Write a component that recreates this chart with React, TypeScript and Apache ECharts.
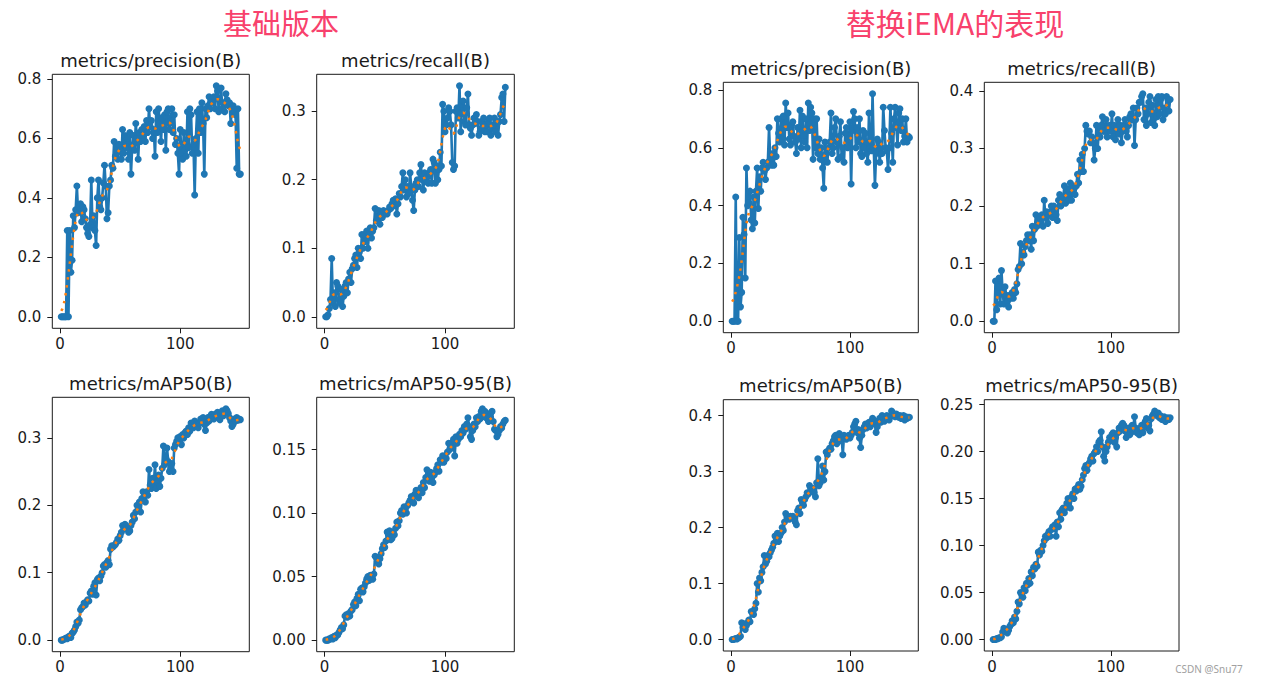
import React, { useEffect, useRef } from "react";
import * as echarts from "echarts";

// ---------- data ----------
const epochs: number[] = Array.from({ length: 150 }, (_, i) => i + 1);

const precisionBase = [
  0, 0, 0, 0, 0, 0.29, 0, 0.29, 0.15, 0.19,
  0.34, 0.30, 0.36, 0.44, 0.35, 0.37, 0.38, 0.32, 0.37, 0.36,
  0.33, 0.30, 0.28, 0.27, 0.31, 0.46, 0.30, 0.34, 0.29, 0.24,
  0.40, 0.46, 0.37, 0.36, 0.40, 0.45, 0.51, 0.44, 0.33, 0.35,
  0.44, 0.46, 0.51, 0.50, 0.59, 0.54, 0.57, 0.53, 0.58, 0.56,
  0.53, 0.63, 0.55, 0.61, 0.57, 0.60, 0.53, 0.62, 0.48, 0.57,
  0.61, 0.56, 0.65, 0.60, 0.53, 0.62, 0.59, 0.63, 0.61, 0.64,
  0.59, 0.66, 0.62, 0.70, 0.64, 0.66, 0.60, 0.63, 0.54, 0.69,
  0.62, 0.70, 0.65, 0.59, 0.67, 0.63, 0.68, 0.56, 0.69, 0.70,
  0.63, 0.66, 0.70, 0.62, 0.68, 0.58, 0.60, 0.55, 0.48, 0.63,
  0.55, 0.53, 0.62, 0.56, 0.54, 0.69, 0.57, 0.70, 0.68, 0.55,
  0.58, 0.41, 0.60, 0.69, 0.55, 0.70, 0.62, 0.72, 0.65, 0.48,
  0.70, 0.67, 0.71, 0.74, 0.70, 0.73, 0.72, 0.74, 0.70, 0.777,
  0.76, 0.69, 0.73, 0.77, 0.70, 0.72, 0.69, 0.75, 0.73, 0.71,
  0.72, 0.65, 0.70, 0.71, 0.69, 0.68, 0.50, 0.70, 0.48, 0.48,
];

const recallBase = [
  0.0, 0.0, 0.003, 0.012, 0.025, 0.085, 0.02, 0.035, 0.015, 0.05,
  0.045, 0.025, 0.02, 0.04, 0.015, 0.03, 0.045, 0.05, 0.035, 0.055,
  0.065, 0.05, 0.07, 0.075, 0.085, 0.09, 0.072, 0.10, 0.095, 0.085,
  0.12, 0.10, 0.12, 0.11, 0.125, 0.10, 0.12, 0.13, 0.115, 0.125,
  0.13, 0.158, 0.14, 0.145, 0.155, 0.135, 0.15, 0.145, 0.155, 0.15,
  0.152, 0.15, 0.155, 0.16, 0.158, 0.165, 0.17, 0.162, 0.172, 0.15,
  0.165, 0.18, 0.175, 0.19, 0.21, 0.185, 0.2, 0.175, 0.19, 0.18,
  0.21, 0.19, 0.17, 0.155, 0.185, 0.195, 0.2, 0.19, 0.21, 0.222,
  0.2, 0.185, 0.21, 0.2, 0.205, 0.195, 0.21, 0.215, 0.195, 0.23,
  0.225, 0.195, 0.22, 0.2, 0.215, 0.24, 0.22, 0.31, 0.3, 0.27,
  0.28, 0.29, 0.305, 0.3, 0.28, 0.225, 0.215, 0.22, 0.3, 0.305,
  0.29, 0.337, 0.27, 0.31, 0.315, 0.285, 0.28, 0.305, 0.325, 0.28,
  0.275, 0.265, 0.28, 0.29, 0.282, 0.295, 0.285, 0.265, 0.27, 0.285,
  0.275, 0.29, 0.27, 0.28, 0.27, 0.285, 0.29, 0.265, 0.275, 0.28,
  0.29, 0.27, 0.285, 0.265, 0.285, 0.295, 0.32, 0.325, 0.285, 0.335,
];

const map50Base = [
  0.0, 0.0, 0.001, 0.002, 0.003, 0.002, 0.005, 0.006, 0.004, 0.01,
  0.012, 0.015, 0.02, 0.027, 0.025, 0.03, 0.045, 0.048, 0.05, 0.055,
  0.052, 0.057, 0.06, 0.058, 0.07, 0.073, 0.068, 0.08, 0.085, 0.067,
  0.09, 0.092, 0.088, 0.095, 0.1, 0.11, 0.112, 0.108, 0.115, 0.118,
  0.112, 0.135, 0.14, 0.138, 0.14, 0.142, 0.145, 0.15, 0.148, 0.155,
  0.16, 0.17, 0.165, 0.172, 0.168, 0.165, 0.16, 0.162, 0.17, 0.175,
  0.185, 0.18, 0.19, 0.2, 0.195, 0.205, 0.19, 0.21, 0.22, 0.215,
  0.205, 0.22, 0.215, 0.253, 0.23, 0.225, 0.24, 0.232, 0.26, 0.225,
  0.235, 0.245, 0.228, 0.24, 0.255, 0.288, 0.26, 0.27, 0.285, 0.265,
  0.25, 0.255, 0.262, 0.25, 0.285, 0.29, 0.295, 0.3, 0.298, 0.302,
  0.29, 0.305, 0.3, 0.308, 0.31, 0.305, 0.315, 0.31, 0.322, 0.318,
  0.315, 0.325, 0.318, 0.32, 0.315, 0.322, 0.328, 0.325, 0.33, 0.32,
  0.311, 0.322, 0.33, 0.325, 0.332, 0.335, 0.33, 0.328, 0.335, 0.332,
  0.338, 0.332, 0.327, 0.335, 0.34, 0.333, 0.338, 0.343, 0.34, 0.336,
  0.33, 0.325, 0.317, 0.32, 0.328, 0.325, 0.33, 0.326, 0.328, 0.327,
];

const map5095Base = [
  0.0, 0.0, 0.0, 0.001, 0.001, 0.002, 0.001, 0.003, 0.002, 0.004,
  0.004, 0.006, 0.008, 0.01, 0.009, 0.012, 0.019, 0.02, 0.018, 0.021,
  0.019, 0.023, 0.024, 0.028, 0.03, 0.027, 0.033, 0.036, 0.031, 0.04,
  0.041, 0.038, 0.042, 0.045, 0.048, 0.05, 0.047, 0.051, 0.05, 0.048,
  0.052, 0.066, 0.065, 0.062, 0.06, 0.064, 0.068, 0.072, 0.075, 0.073,
  0.078, 0.085, 0.083, 0.086, 0.079, 0.08, 0.085, 0.083, 0.088, 0.093,
  0.09, 0.094, 0.1, 0.102, 0.099, 0.105, 0.103, 0.1, 0.106, 0.108,
  0.11, 0.113, 0.112, 0.108, 0.115, 0.118, 0.114, 0.112, 0.118, 0.12,
  0.116, 0.124, 0.12, 0.128, 0.134, 0.13, 0.125, 0.132, 0.128, 0.124,
  0.13, 0.132, 0.135, 0.138, 0.133, 0.142, 0.14, 0.145, 0.14, 0.145,
  0.143, 0.148, 0.155, 0.15, 0.155, 0.152, 0.158, 0.145, 0.16, 0.155,
  0.158, 0.162, 0.16, 0.165, 0.163, 0.168, 0.166, 0.17, 0.175, 0.168,
  0.16, 0.158, 0.165, 0.17, 0.168, 0.175, 0.172, 0.176, 0.174, 0.18,
  0.182, 0.176, 0.18, 0.175, 0.178, 0.172, 0.176, 0.179, 0.18, 0.172,
  0.166, 0.165, 0.16, 0.162, 0.165, 0.168, 0.167, 0.17, 0.172, 0.173,
];

const precisionIEMA = [
  0.0, 0.0, 0.0, 0.43, 0.0, 0.0, 0.29, 0.05, 0.1, 0.36,
  0.3, 0.15, 0.53, 0.4, 0.41, 0.45, 0.35, 0.32, 0.43, 0.34,
  0.45, 0.53, 0.39, 0.5, 0.45, 0.53, 0.55, 0.52, 0.49, 0.53,
  0.55, 0.67, 0.56, 0.54, 0.58, 0.54, 0.6, 0.57, 0.7, 0.65,
  0.62, 0.7, 0.63, 0.71, 0.61, 0.755, 0.67, 0.72, 0.63, 0.61,
  0.68, 0.69, 0.64, 0.62, 0.58, 0.67, 0.63, 0.73, 0.6, 0.71,
  0.64, 0.62, 0.7, 0.6, 0.755, 0.66, 0.74, 0.72, 0.56, 0.7,
  0.6, 0.7, 0.58, 0.63, 0.56, 0.6, 0.53, 0.46, 0.62, 0.58,
  0.55, 0.6, 0.62, 0.72, 0.58, 0.6, 0.67, 0.7, 0.62, 0.56,
  0.64, 0.69, 0.57, 0.6, 0.55, 0.65, 0.67, 0.6, 0.63, 0.69,
  0.475, 0.66, 0.725, 0.7, 0.6, 0.67, 0.62, 0.7, 0.58, 0.57,
  0.66, 0.6, 0.65, 0.58, 0.55, 0.72, 0.6, 0.59, 0.787, 0.6,
  0.47, 0.58, 0.63, 0.62, 0.55, 0.6, 0.58, 0.74, 0.66, 0.6,
  0.59, 0.525, 0.6, 0.74, 0.65, 0.55, 0.7, 0.74, 0.67, 0.61,
  0.72, 0.735, 0.66, 0.7, 0.62, 0.64, 0.7, 0.62, 0.64, 0.635,
];

const recallIEMA = [
  0.0, 0.0, 0.07, 0.02, 0.06, 0.075, 0.03, 0.088, 0.05, 0.03,
  0.06, 0.045, 0.035, 0.025, 0.045, 0.04, 0.05, 0.04, 0.055, 0.05,
  0.065, 0.09, 0.095, 0.135, 0.1, 0.12, 0.115, 0.13, 0.14, 0.15,
  0.14, 0.15, 0.125, 0.165, 0.14, 0.16, 0.185, 0.165, 0.17, 0.18,
  0.17, 0.185, 0.165, 0.21, 0.18, 0.19, 0.17, 0.185, 0.19, 0.2,
  0.18, 0.2, 0.19, 0.185, 0.175, 0.21, 0.22, 0.2, 0.21, 0.215,
  0.235, 0.205, 0.22, 0.23, 0.21, 0.24, 0.21, 0.235, 0.23, 0.22,
  0.235, 0.255, 0.24, 0.28, 0.26, 0.29, 0.26, 0.3, 0.34, 0.33,
  0.325, 0.33, 0.31, 0.32, 0.31, 0.28, 0.3, 0.34, 0.3, 0.33,
  0.32, 0.34, 0.355, 0.33, 0.33, 0.35, 0.32, 0.335, 0.34, 0.33,
  0.36, 0.32, 0.34, 0.315, 0.335, 0.35, 0.325, 0.34, 0.31, 0.33,
  0.34, 0.35, 0.33, 0.32, 0.34, 0.355, 0.36, 0.35, 0.37, 0.305,
  0.35, 0.37, 0.36, 0.38, 0.38, 0.39, 0.395, 0.35, 0.37, 0.34,
  0.36, 0.38, 0.39, 0.345, 0.375, 0.35, 0.34, 0.385, 0.355, 0.39,
  0.36, 0.385, 0.39, 0.35, 0.37, 0.36, 0.39, 0.385, 0.365, 0.385,
];

const map50IEMA = [
  0.0, 0.0, 0.001, 0.002, 0.001, 0.003, 0.004, 0.006, 0.03, 0.022,
  0.028, 0.018, 0.025, 0.03, 0.035, 0.032, 0.05, 0.048, 0.045, 0.055,
  0.065, 0.1, 0.085, 0.11, 0.105, 0.12, 0.13, 0.15, 0.135, 0.14,
  0.15, 0.148, 0.155, 0.16, 0.165, 0.172, 0.185, 0.18, 0.19, 0.175,
  0.185, 0.19, 0.2, 0.195, 0.21, 0.225, 0.22, 0.218, 0.215, 0.22,
  0.218, 0.22, 0.215, 0.21, 0.205, 0.23, 0.235, 0.225, 0.25, 0.245,
  0.24, 0.25, 0.255, 0.262, 0.26, 0.275, 0.27, 0.265, 0.27, 0.262,
  0.255, 0.28, 0.323, 0.275, 0.28, 0.29, 0.31, 0.285, 0.3, 0.335,
  0.33, 0.338, 0.342, 0.34, 0.35, 0.355, 0.362, 0.365, 0.35, 0.36,
  0.368, 0.355, 0.362, 0.33, 0.365, 0.36, 0.358, 0.362, 0.365, 0.36,
  0.365, 0.37, 0.38, 0.385, 0.39, 0.37, 0.375, 0.36, 0.343, 0.365,
  0.375, 0.38, 0.385, 0.378, 0.385, 0.388, 0.38, 0.39, 0.395, 0.392,
  0.385, 0.37, 0.38, 0.39, 0.395, 0.388, 0.4, 0.398, 0.39, 0.395,
  0.4, 0.395, 0.392, 0.398, 0.408, 0.405, 0.4, 0.398, 0.403, 0.4,
  0.397, 0.4, 0.395, 0.398, 0.4, 0.392, 0.398, 0.395, 0.397, 0.397,
];

const map5095IEMA = [
  0.0, 0.0, 0.0, 0.001, 0.001, 0.002, 0.002, 0.003, 0.008, 0.012,
  0.009, 0.011, 0.007, 0.01, 0.014, 0.016, 0.02, 0.018, 0.024, 0.022,
  0.03, 0.04, 0.038, 0.05, 0.048, 0.045, 0.055, 0.052, 0.06, 0.058,
  0.065, 0.06, 0.072, 0.068, 0.077, 0.075, 0.08, 0.078, 0.093, 0.09,
  0.095, 0.094, 0.1, 0.105, 0.11, 0.108, 0.112, 0.115, 0.11, 0.117,
  0.12, 0.118, 0.122, 0.11, 0.125, 0.12, 0.135, 0.128, 0.138, 0.14,
  0.135, 0.14, 0.145, 0.15, 0.148, 0.14, 0.152, 0.155, 0.15, 0.16,
  0.158, 0.162, 0.165, 0.16, 0.163, 0.17, 0.175, 0.182, 0.185, 0.18,
  0.186, 0.188, 0.192, 0.195, 0.19, 0.198, 0.2, 0.205, 0.2, 0.21,
  0.212, 0.221, 0.205, 0.195, 0.19, 0.2, 0.205, 0.21, 0.215, 0.212,
  0.218, 0.22, 0.21, 0.215, 0.205, 0.22, 0.225, 0.222, 0.228, 0.23,
  0.228, 0.222, 0.215, 0.22, 0.225, 0.218, 0.22, 0.228, 0.226, 0.237,
  0.225, 0.22, 0.222, 0.218, 0.225, 0.228, 0.22, 0.226, 0.232, 0.235,
  0.225, 0.228, 0.222, 0.235, 0.238, 0.24, 0.243, 0.24, 0.238, 0.241,
  0.236, 0.238, 0.234, 0.235, 0.237, 0.232, 0.235, 0.236, 0.234, 0.236,
];

const panelTitles = [
  "metrics/precision(B)",
  "metrics/recall(B)",
  "metrics/mAP50(B)",
  "metrics/mAP50-95(B)",
];
const groupTitles = ["基础版本", "替换iEMA的表现"];

const xTicks = [0, 100];
const yTicksPrecision = [0, 0.2, 0.4, 0.6, 0.8];
const yTicksRecallBase = [0, 0.1, 0.2, 0.3];
const yTicksMap50Base = [0, 0.1, 0.2, 0.3];
const yTicksMap5095Base = [0, 0.05, 0.1, 0.15];
const yTicksRecallIEMA = [0, 0.1, 0.2, 0.3, 0.4];
const yTicksMap50IEMA = [0, 0.1, 0.2, 0.3, 0.4];
const yTicksMap5095IEMA = [0, 0.05, 0.1, 0.15, 0.2, 0.25];

// ---------- panels (data + layout) ----------
const panels = [
  { title: panelTitles[0], y: precisionBase, ticks: yTicksPrecision, dec: 1, box: [52.3, 74.3, 197, 254] },
  { title: panelTitles[1], y: recallBase, ticks: yTicksRecallBase, dec: 1, box: [316.7, 74.3, 197.6, 254] },
  { title: panelTitles[2], y: map50Base, ticks: yTicksMap50Base, dec: 1, box: [52.3, 397.3, 197, 254.4] },
  { title: panelTitles[3], y: map5095Base, ticks: yTicksMap5095Base, dec: 2, box: [316.7, 397.3, 197.6, 254.4] },
  { title: panelTitles[0], y: precisionIEMA, ticks: yTicksPrecision, dec: 1, box: [723.3, 82.3, 195, 250.4] },
  { title: panelTitles[1], y: recallIEMA, ticks: yTicksRecallIEMA, dec: 1, box: [984.3, 82.3, 194.7, 250.4] },
  { title: panelTitles[2], y: map50IEMA, ticks: yTicksMap50IEMA, dec: 1, box: [723.3, 399.7, 195, 251.3] },
  { title: panelTitles[3], y: map5095IEMA, ticks: yTicksMap5095IEMA, dec: 2, box: [984.3, 399.7, 194.7, 251.3] },
];

// gaussian_filter1d (sigma=3, mode reflect) as used by the original plotting code
function gaussianSmooth(y: number[], sigma = 3): number[] {
  const r = Math.round(4 * sigma);
  const w: number[] = [];
  let s = 0;
  for (let k = -r; k <= r; k++) {
    const v = Math.exp((-k * k) / (2 * sigma * sigma));
    w.push(v);
    s += v;
  }
  const n = y.length;
  const idx = (i: number) => {
    while (i < 0 || i >= n) {
      if (i < 0) i = -i - 1;
      if (i >= n) i = 2 * n - i - 1;
    }
    return i;
  };
  return y.map((_, i) => {
    let acc = 0;
    for (let k = -r; k <= r; k++) acc += (w[k + r] / s) * y[idx(i + k)];
    return acc;
  });
}

const FONT = "DejaVu Sans";
const TEXT = "#1a1a1a";

function buildOption() {
  const xMin = epochs[0] - 0.05 * (epochs[epochs.length - 1] - epochs[0]);
  const xMax = epochs[epochs.length - 1] + 0.05 * (epochs[epochs.length - 1] - epochs[0]);

  const grid: any[] = [];
  const xAxis: any[] = [];
  const yAxis: any[] = [];
  const series: any[] = [];
  const graphic: any[] = [];

  panels.forEach((p, i) => {
    const [left, top, width, height] = p.box;
    const sm = gaussianSmooth(p.y);
    const all = p.y.concat(sm);
    const dmin = Math.min(...all);
    const dmax = Math.max(...all);
    const pad = 0.05 * (dmax - dmin);

    grid.push({ left, top, width, height, show: true, borderColor: "#1a1a1a", borderWidth: 1, backgroundColor: "transparent" });
    xAxis.push({
      type: "value",
      gridIndex: i,
      min: xMin,
      max: xMax,
      splitLine: { show: false },
      axisLine: { show: false, onZero: false },
      axisTick: { show: true, length: 5, customValues: xTicks, lineStyle: { color: "#1a1a1a", width: 1 } },
      axisLabel: { customValues: xTicks, margin: 8, fontSize: 15, color: TEXT, fontFamily: FONT },
    });
    yAxis.push({
      type: "value",
      gridIndex: i,
      min: dmin - pad,
      max: dmax + pad,
      splitLine: { show: false },
      axisLine: { show: false, onZero: false },
      axisTick: { show: true, length: 5, customValues: p.ticks, lineStyle: { color: "#1a1a1a", width: 1 } },
      axisLabel: {
        customValues: p.ticks,
        margin: 11,
        fontSize: 15,
        color: TEXT,
        fontFamily: FONT,
        formatter: (v: number) => v.toFixed(p.dec),
      },
    });
    series.push({
      type: "line",
      xAxisIndex: i,
      yAxisIndex: i,
      data: epochs.map((e, k) => [e, p.y[k]]),
      symbol: "circle",
      symbolSize: 7,
      showSymbol: true,
      showAllSymbol: true,
      itemStyle: { color: "#1f77b4" },
      lineStyle: { color: "#1f77b4", width: 2.6 },
      z: 2,
      silent: true,
    });
    series.push({
      type: "line",
      xAxisIndex: i,
      yAxisIndex: i,
      data: epochs.map((e, k) => [e, sm[k]]),
      symbol: "none",
      lineStyle: { color: "#ff7f0e", width: 2.5, type: [2.5, 5.5] },
      z: 3,
      silent: true,
    });
    graphic.push({
      type: "text",
      x: left + width / 2,
      y: top - 14,
      style: { text: p.title, align: "center", verticalAlign: "middle", fontSize: 18, fill: TEXT, fontFamily: FONT },
    });
  });

  graphic.push({
    type: "text",
    x: 281,
    y: 22,
    style: { text: groupTitles[0], align: "center", verticalAlign: "middle", fontSize: 29, fill: "#f8416c", fontFamily: "Noto Sans CJK SC" },
  });
  graphic.push({
    type: "text",
    x: 955,
    y: 22,
    style: { text: groupTitles[1], align: "center", verticalAlign: "middle", fontSize: 30, fill: "#f8416c", fontFamily: "Noto Sans CJK SC" },
  });
  graphic.push({
    type: "text",
    x: 1209,
    y: 669,
    style: { text: "CSDN @Snu77", align: "center", verticalAlign: "middle", fontSize: 10, fill: "#a0a0a0", fontFamily: "Noto Sans" },
  });

  return { animation: false, backgroundColor: "#ffffff", grid, xAxis, yAxis, series, graphic };
}

export default function App() {
  const ref = useRef<HTMLDivElement>(null);
  useEffect(() => {
    if (!ref.current) return;
    const chart = echarts.init(ref.current, undefined, { renderer: "svg" });
    chart.setOption(buildOption());
    return () => chart.dispose();
  }, []);
  return <div ref={ref} style={{ position: "absolute", left: 0, top: 0, width: 1261, height: 684 }} />;
}
